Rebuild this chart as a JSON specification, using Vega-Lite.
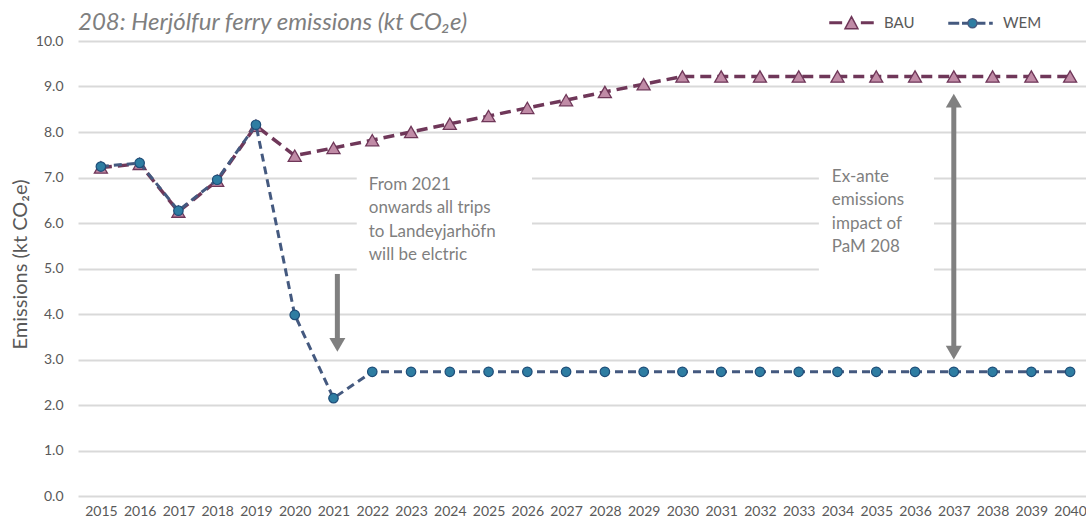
{
  "$schema": "https://vega.github.io/schema/vega-lite/v6.json",
  "width": 1008,
  "height": 455,
  "autosize": {"type": "none"},
  "padding": {"left": 78, "top": 41, "right": 0, "bottom": 31},
  "background": "white",
  "title": {
    "text": "208: Herjólfur ferry emissions (kt CO₂e)",
    "anchor": "start",
    "frame": "group",
    "font": "Lato",
    "fontSize": 24,
    "fontStyle": "italic",
    "fontWeight": "normal",
    "color": "#7F7F7F",
    "baseline": "alphabetic",
    "offset": 9,
    "dy": 63
  },
  "config": {
    "view": {"stroke": null},
    "axis": {
      "labelFont": "Lato",
      "labelFontSize": 14,
      "labelColor": "#595959",
      "domain": false,
      "ticks": false,
      "titleFont": "Lato",
      "titleFontWeight": "normal",
      "titleColor": "#595959"
    },
    "legend": {
      "orient": "none",
      "legendX": 751,
      "legendY": -41,
      "direction": "horizontal",
      "symbolSize": 1849,
      "symbolStrokeWidth": 1.5,
      "symbolOpacity": 1,
      "labelFont": "Lato",
      "labelFontSize": 15,
      "labelColor": "#595959",
      "labelOffset": 10,
      "columnPadding": 31,
      "padding": 0
    }
  },
  "datasets": {
    "emissions": [
      {"year": 2015, "series": "BAU", "value": 7.22},
      {"year": 2016, "series": "BAU", "value": 7.30},
      {"year": 2017, "series": "BAU", "value": 6.25},
      {"year": 2018, "series": "BAU", "value": 6.93},
      {"year": 2019, "series": "BAU", "value": 8.14},
      {"year": 2020, "series": "BAU", "value": 7.48},
      {"year": 2021, "series": "BAU", "value": 7.65},
      {"year": 2022, "series": "BAU", "value": 7.82},
      {"year": 2023, "series": "BAU", "value": 8.00},
      {"year": 2024, "series": "BAU", "value": 8.18},
      {"year": 2025, "series": "BAU", "value": 8.35},
      {"year": 2026, "series": "BAU", "value": 8.53},
      {"year": 2027, "series": "BAU", "value": 8.70},
      {"year": 2028, "series": "BAU", "value": 8.88},
      {"year": 2029, "series": "BAU", "value": 9.05},
      {"year": 2030, "series": "BAU", "value": 9.22},
      {"year": 2031, "series": "BAU", "value": 9.22},
      {"year": 2032, "series": "BAU", "value": 9.22},
      {"year": 2033, "series": "BAU", "value": 9.22},
      {"year": 2034, "series": "BAU", "value": 9.22},
      {"year": 2035, "series": "BAU", "value": 9.22},
      {"year": 2036, "series": "BAU", "value": 9.22},
      {"year": 2037, "series": "BAU", "value": 9.22},
      {"year": 2038, "series": "BAU", "value": 9.22},
      {"year": 2039, "series": "BAU", "value": 9.22},
      {"year": 2040, "series": "BAU", "value": 9.22},
      {"year": 2015, "series": "WEM", "value": 7.24},
      {"year": 2016, "series": "WEM", "value": 7.32},
      {"year": 2017, "series": "WEM", "value": 6.27},
      {"year": 2018, "series": "WEM", "value": 6.95},
      {"year": 2019, "series": "WEM", "value": 8.16},
      {"year": 2020, "series": "WEM", "value": 3.98},
      {"year": 2021, "series": "WEM", "value": 2.15},
      {"year": 2022, "series": "WEM", "value": 2.73},
      {"year": 2023, "series": "WEM", "value": 2.73},
      {"year": 2024, "series": "WEM", "value": 2.73},
      {"year": 2025, "series": "WEM", "value": 2.73},
      {"year": 2026, "series": "WEM", "value": 2.73},
      {"year": 2027, "series": "WEM", "value": 2.73},
      {"year": 2028, "series": "WEM", "value": 2.73},
      {"year": 2029, "series": "WEM", "value": 2.73},
      {"year": 2030, "series": "WEM", "value": 2.73},
      {"year": 2031, "series": "WEM", "value": 2.73},
      {"year": 2032, "series": "WEM", "value": 2.73},
      {"year": 2033, "series": "WEM", "value": 2.73},
      {"year": 2034, "series": "WEM", "value": 2.73},
      {"year": 2035, "series": "WEM", "value": 2.73},
      {"year": 2036, "series": "WEM", "value": 2.73},
      {"year": 2037, "series": "WEM", "value": 2.73},
      {"year": 2038, "series": "WEM", "value": 2.73},
      {"year": 2039, "series": "WEM", "value": 2.73},
      {"year": 2040, "series": "WEM", "value": 2.73}
    ],
    "boxes": [
      {"year": 2021.6, "year2": 2026.12, "value": 4.79, "value2": 7.16},
      {"year": 2033.52, "year2": 2036.49, "value": 4.79, "value2": 7.38}
    ],
    "notes": [
      {"year": 2021.91, "value": 6.835, "label": "From 2021\nonwards all trips\nto Landeyjarhöfn\nwill be elctric"},
      {"year": 2033.855, "value": 7.01, "label": "Ex-ante\nemissions\nimpact of\nPaM 208"}
    ],
    "shafts": [
      {"year": 2021.1, "value": 4.88, "value2": 3.45},
      {"year": 2037, "value": 8.6, "value2": 3.25}
    ],
    "headsDown": [
      {"year": 2021.1, "value": 3.32},
      {"year": 2037, "value": 3.15}
    ],
    "headsUp": [
      {"year": 2037, "value": 8.69}
    ]
  },
  "layer": [
    {
      "data": {"name": "boxes"},
      "mark": {"type": "rect", "fill": "white"},
      "encoding": {
        "x": {
          "field": "year", "type": "quantitative",
          "scale": {"domain": [2014.41, 2040.41], "nice": false, "zero": false},
          "axis": {"title": null, "values": [2015,2016,2017,2018,2019,2020,2021,2022,2023,2024,2025,2026,2027,2028,2029,2030,2031,2032,2033,2034,2035,2036,2037,2038,2039,2040], "format": "d", "grid": false, "labelPadding": 8, "labelFlush": false, "labelOverlap": false}
        },
        "x2": {"field": "year2"},
        "y": {
          "field": "value", "type": "quantitative",
          "scale": {"domain": [0, 10], "nice": false},
          "axis": {"title": "Emissions (kt CO₂e)", "values": [0,1,2,3,4,5,6,7,8,9,10], "format": ".1f", "grid": true, "gridColor": "#D9D9D9", "gridWidth": 1.8, "labelPadding": 15, "titleFontSize": 20, "titleAngle": -90, "titleX": -58, "titleY": 223, "titleAlign": "center", "titleBaseline": "middle"}
        },
        "y2": {"field": "value2"}
      }
    },
    {
      "data": {"name": "emissions"},
      "transform": [{"filter": "datum.series === 'BAU'"}],
      "mark": {"type": "line", "stroke": "#6F3759", "strokeWidth": 3.5, "strokeDash": [11, 6], "strokeCap": "butt"},
      "encoding": {
        "x": {"field": "year", "type": "quantitative"},
        "y": {"field": "value", "type": "quantitative"}
      }
    },
    {
      "data": {"name": "emissions"},
      "transform": [{"filter": "datum.series === 'BAU'"}],
      "mark": {"type": "point", "shape": "triangle-up", "size": 170, "filled": true, "fill": "#C08BA6", "stroke": "#6F3759", "strokeWidth": 1.3, "opacity": 1},
      "encoding": {
        "x": {"field": "year", "type": "quantitative"},
        "y": {"field": "value", "type": "quantitative"}
      }
    },
    {
      "data": {"name": "emissions"},
      "transform": [{"filter": "datum.series === 'WEM'"}],
      "mark": {"type": "line", "stroke": "#44597F", "strokeWidth": 3, "strokeDash": [8, 5], "strokeCap": "butt"},
      "encoding": {
        "x": {"field": "year", "type": "quantitative"},
        "y": {"field": "value", "type": "quantitative"}
      }
    },
    {
      "data": {"name": "emissions"},
      "transform": [{"filter": "datum.series === 'WEM'"}],
      "mark": {"type": "point", "shape": "circle", "size": 90, "filled": true, "fill": "#2E7DA2", "stroke": "#1F4E79", "strokeWidth": 1.2, "opacity": 1},
      "encoding": {
        "x": {"field": "year", "type": "quantitative"},
        "y": {"field": "value", "type": "quantitative"}
      }
    },
    {
      "data": {"name": "shafts"},
      "mark": {"type": "rule", "color": "#808080", "strokeWidth": 5},
      "encoding": {
        "x": {"field": "year", "type": "quantitative"},
        "y": {"field": "value", "type": "quantitative"},
        "y2": {"field": "value2"}
      }
    },
    {
      "data": {"name": "headsDown"},
      "mark": {"type": "point", "shape": "triangle-down", "size": 256, "filled": true, "fill": "#808080", "strokeWidth": 0, "opacity": 1},
      "encoding": {
        "x": {"field": "year", "type": "quantitative"},
        "y": {"field": "value", "type": "quantitative"}
      }
    },
    {
      "data": {"name": "headsUp"},
      "mark": {"type": "point", "shape": "triangle-up", "size": 256, "filled": true, "fill": "#808080", "strokeWidth": 0, "opacity": 1},
      "encoding": {
        "x": {"field": "year", "type": "quantitative"},
        "y": {"field": "value", "type": "quantitative"}
      }
    },
    {
      "data": {"name": "notes"},
      "mark": {"type": "text", "align": "left", "baseline": "middle", "font": "Lato", "fontSize": 17, "color": "#7F7F7F", "lineBreak": "\n", "lineHeight": 23.3},
      "encoding": {
        "x": {"field": "year", "type": "quantitative"},
        "y": {"field": "value", "type": "quantitative"},
        "text": {"field": "label"}
      }
    },
    {
      "data": {"values": []},
      "mark": {"type": "point", "filled": true, "strokeWidth": 1.5, "opacity": 1},
      "encoding": {
        "shape": {
          "field": "series", "type": "nominal",
          "scale": {"domain": ["BAU", "WEM"], "range": [
            "M-1,-0.035H-0.47V0.035H-1Z M0.47,-0.035H1V0.035H0.47Z M-0.3,0.27L0,-0.29L0.3,0.27Z",
            "M-1,-0.035H-0.56V0.035H-1Z M-0.36,-0.035H-0.14V0.035H-0.36Z M0.32,-0.035H0.66V0.035H0.32Z M0.9,-0.035H1V0.035H0.9Z M-0.12,0A0.21,0.21 0 1,0 0.3,0A0.21,0.21 0 1,0 -0.12,0Z"
          ]},
          "legend": {"title": null}
        },
        "fill": {
          "field": "series", "type": "nominal",
          "scale": {"domain": ["BAU", "WEM"], "range": ["#C08BA6", "#2E7DA2"]},
          "legend": {"title": null}
        },
        "stroke": {
          "field": "series", "type": "nominal",
          "scale": {"domain": ["BAU", "WEM"], "range": ["#6F3759", "#44597F"]},
          "legend": {"title": null}
        }
      }
    }
  ]
}
